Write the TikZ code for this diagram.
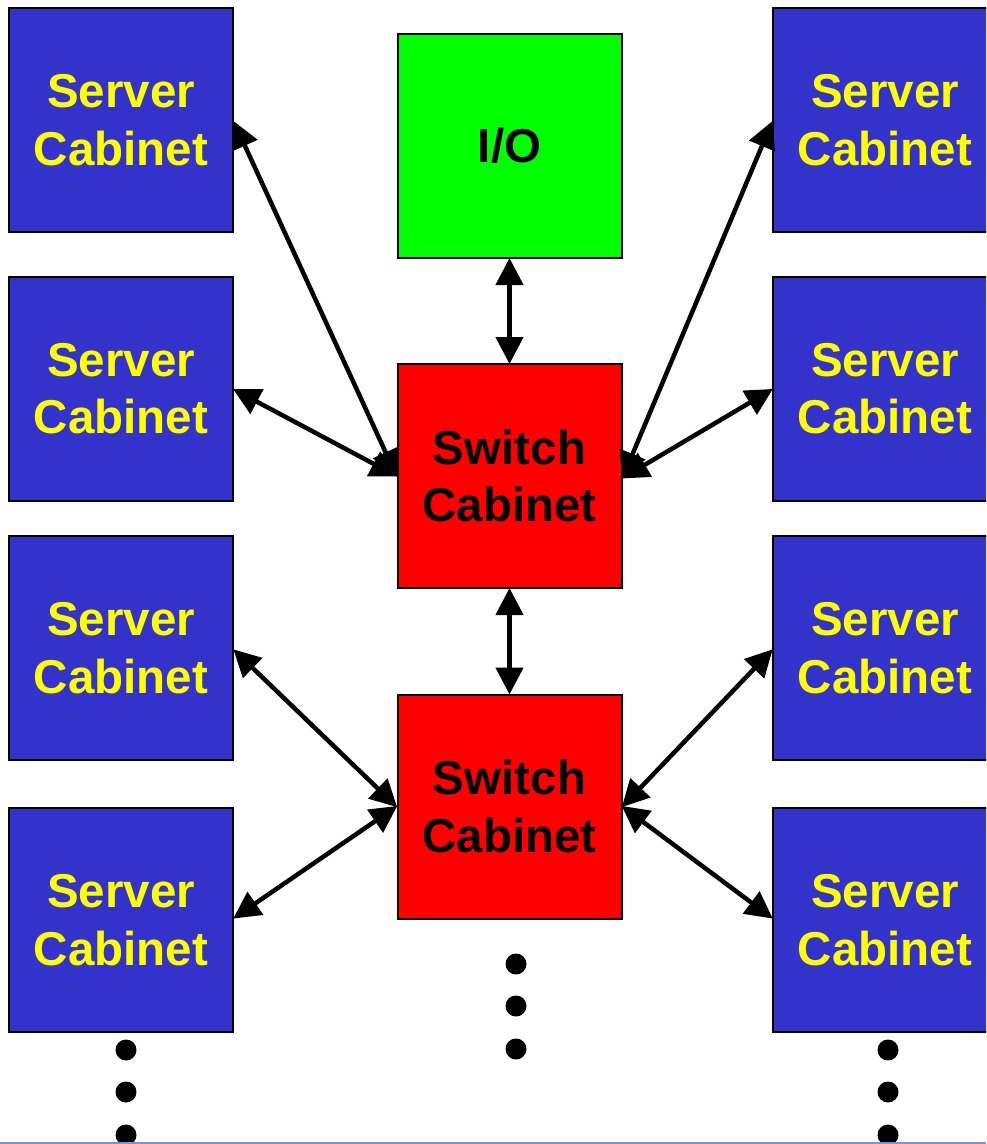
\documentclass[tikz,border=0pt]{standalone}
\usepackage{fontspec}
\setmainfont{Liberation Sans}
\usetikzlibrary{arrows.meta}
\definecolor{srvblue}{HTML}{3333CC}
\definecolor{srvyellow}{HTML}{FFFF00}
\definecolor{swred}{HTML}{FF0000}
\definecolor{iogreen}{HTML}{00FF00}
\definecolor{slideline}{HTML}{8090E0}
\tikzset{
  cab/.style={draw=black, line width=2pt, minimum width=224pt, minimum height=224pt, inner sep=0pt, align=center,
    font=\fontsize{47.5}{57.5}\selectfont\bfseries},
  server/.style={cab, fill=srvblue, text=srvyellow},
  switchbox/.style={cab, fill=swred, text=black},
  iobox/.style={cab, fill=iogreen, text=black},
  link/.style={line width=4.5pt, {Triangle[length=27pt,width=27pt]}-{Triangle[length=27pt,width=27pt]}, shorten <=-1pt, shorten >=-1pt},
  dot/.style={circle, fill=black, inner sep=0pt, minimum size=21pt}
}
\begin{document}
\begin{tikzpicture}[x=1pt,y=-1pt]
\useasboundingbox (0,0) rectangle (986,1144);
\clip (0,0) rectangle (986,1144);
% left servers
\node[server] (L1) at (121,120) {Server\\Cabinet};
\node[server] (L2) at (121,388.5) {Server\\Cabinet};
\node[server] (L3) at (121,648) {Server\\Cabinet};
\node[server] (L4) at (121,920) {Server\\Cabinet};
% right servers
\node[server] (R1) at (885,120) {Server\\Cabinet};
\node[server] (R2) at (885,388.5) {Server\\Cabinet};
\node[server] (R3) at (885,648) {Server\\Cabinet};
\node[server] (R4) at (885,920) {Server\\Cabinet};
% center column
\node[iobox] (IO) at (509.5,146) {I/O};
\node[switchbox] (S1) at (509.5,476) {Switch\\Cabinet};
\node[switchbox] (S2) at (509.5,806.5) {Switch\\Cabinet};
% links
\draw[link] (IO.south) -- (S1.north);
\draw[link] (S1.south) -- (S2.north);
\draw[link] ([yshift=-2pt]L1.east) -- (S1.west);
\draw[link] ([yshift=-1pt]L2.east) -- (S1.west);
\draw[link] ([yshift=-2pt]R1.west) -- ([yshift=-2pt]S1.east);
\draw[link] ([yshift=-1pt]R2.west) -- ([yshift=-2pt]S1.east);
\draw[link] ([yshift=-2pt]L3.east) -- (S2.west);
\draw[link] ([yshift=2pt]L4.east) -- (S2.west);
\draw[link] ([yshift=-2pt]R3.west) -- (S2.east);
\draw[link] ([yshift=2pt]R4.west) -- (S2.east);
% continuation dots
\node[dot] (m1) at (516,964) {};
\node[dot] (m2) at (516,1006) {};
\node[dot] (m3) at (516,1049) {};
\node[dot] (l1) at (126,1050) {};
\node[dot] (l2) at (126,1092) {};
\node[dot] (l3) at (126,1135) {};
\node[dot] (r1) at (888,1050) {};
\node[dot] (r2) at (888,1092) {};
\node[dot] (r3) at (888,1135) {};
% slide edge
\draw[slideline, line width=1.5pt] (0,1143.2) -- (986,1143.2);
\end{tikzpicture}
\end{document}
